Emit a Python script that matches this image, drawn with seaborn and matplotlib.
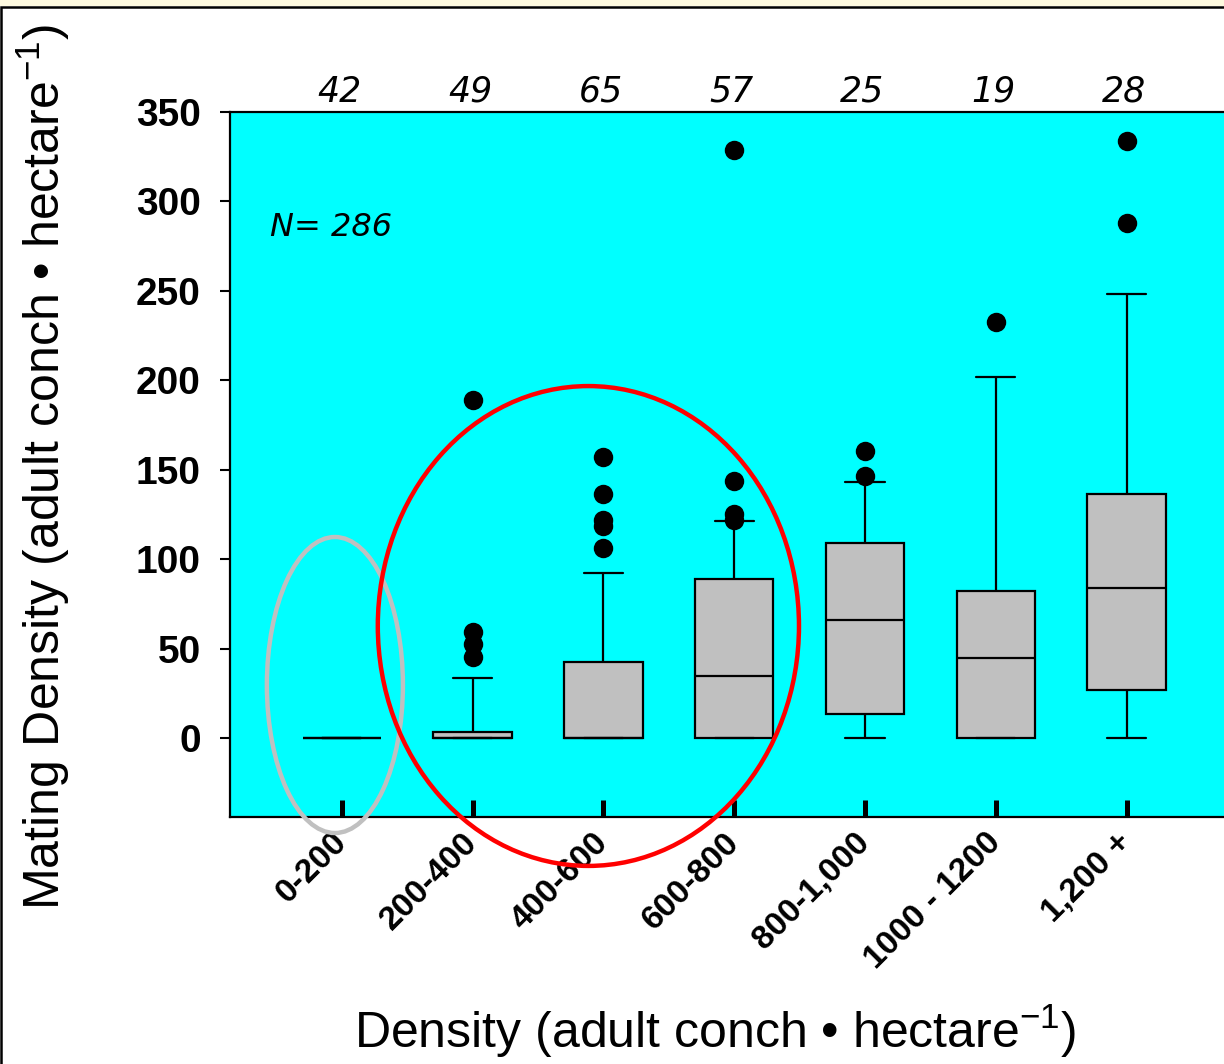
import matplotlib
matplotlib.use("Agg")
import matplotlib.pyplot as plt
from matplotlib import font_manager
from matplotlib.patches import Ellipse, Rectangle
from matplotlib.transforms import ScaledTranslation
import seaborn as sns
import pandas as pd

# ---------------- data ----------------
categories = ["0-200", "200-400", "400-600", "600-800", "800-1,000", "1000 - 1200", "1,200 +"]
n_counts = [42, 49, 65, 57, 25, 19, 28]
whisker_low = [0, 0, 0, 0, 0, 0, 0]
q1 = [0, 0, 0, 0, 13.4, 0, 26.8]
median = [0, 0, 0, 34.7, 66, 44.7, 83.8]
q3 = [0, 3.4, 42.5, 88.9, 109, 82.2, 136.4]
whisker_high = [0, 33.4, 92.2, 121.3, 143, 201.8, 248.2]
outliers = [
    [],
    [45, 52.5, 59.4, 189],
    [106.4, 118.7, 121.9, 136.4, 157],
    [122, 125, 143.6, 328.8],
    [146.5, 160.6],
    [232.5],
    [287.9, 333.7],
]
total_n = 286

# ---------------- tables built from the arrays ----------------
rows = []
for cat, a, b, c, d, e in zip(categories, whisker_low, q1, median, q3, whisker_high):
    for v in (a, b, c, d, e):
        rows.append({"density": cat, "mating": v})
df_box = pd.DataFrame(rows)
df_out = pd.DataFrame([{"density": cat, "mating": v}
                       for cat, vals in zip(categories, outliers) for v in vals])

# ---------------- style ----------------
sns.set_theme(style="ticks")
names = {f.name for f in font_manager.fontManager.ttflist}
narrow = "Liberation Sans Narrow" in names
label_family = "Liberation Sans Narrow" if narrow else "Liberation Sans"
label_size = 43 if narrow else 36
plt.rcParams["font.family"] = ["Liberation Sans", "DejaVu Sans"]
plt.rcParams["mathtext.fontset"] = "custom"
plt.rcParams["mathtext.rm"] = label_family
plt.rcParams["mathtext.it"] = label_family + ":italic"
plt.rcParams["mathtext.bf"] = label_family + ":bold"
for key in ("text.color", "axes.labelcolor", "xtick.color", "ytick.color", "axes.edgecolor"):
    plt.rcParams[key] = "black"

W, H = 1224, 1064
fig = plt.figure(figsize=(W / 100, H / 100), dpi=100)
fig.patch.set_facecolor("white")

x_left, x_right = -0.855, 6.9
ax_left_px, ax_top_px, ax_bot_px = 230, 112, 817
px_per_cat = 130.8
ax_w_px = (x_right - x_left) * px_per_cat
ax = fig.add_axes([ax_left_px / W, (H - ax_bot_px) / H, ax_w_px / W, (ax_bot_px - ax_top_px) / H])
ax.set_facecolor("#00ffff")

sns.boxplot(data=df_box, x="density", y="mating", order=categories, whis=(0, 100),
            width=0.6, color="#c0c0c0", saturation=1, linecolor="black",
            linewidth=1.6, fliersize=0, ax=ax)
sns.stripplot(data=df_out, x="density", y="mating", order=categories, jitter=False,
              color="black", size=14, linewidth=0, ax=ax, zorder=4)

ax.set_xlim(x_left, x_right)
ax.set_ylim(-44.2, 350)
ax.set_yticks(range(0, 351, 50))
ax.set_xticks(range(len(categories)))
ax.set_xticklabels(categories, rotation=45, ha="right", va="center",
                   rotation_mode="anchor", fontweight="bold", fontsize=24,
                   family=["Liberation Sans", "DejaVu Sans"])
shift = ScaledTranslation(5 / 100, 0, fig.dpi_scale_trans)
for lbl in ax.get_xticklabels():
    lbl.set_transform(lbl.get_transform() + shift)
for lbl in ax.get_yticklabels():
    lbl.set_fontweight("bold")
    lbl.set_fontsize(28)

ax.tick_params(axis="y", direction="out", length=7, width=1.5, pad=14, colors="black")
ax.tick_params(axis="x", direction="in", length=12, width=3.6, pad=15, colors="black")
for side in ("left", "bottom", "top"):
    ax.spines[side].set_visible(True)
    ax.spines[side].set_linewidth(1.6)
    ax.spines[side].set_color("black")
ax.spines["right"].set_visible(False)
ax.grid(False)

ax.set_ylabel("Mating Density (adult conch \u2022 hectare$^{-1}$)",
              family=[label_family, "DejaVu Sans"], fontsize=label_size, color="black")
ax.yaxis.set_label_coords(72 / W, (H - 467) / H, transform=fig.transFigure)
ax.set_xlabel("Density (adult conch \u2022 hectare$^{-1}$)",
              family=[label_family, "DejaVu Sans"], fontsize=label_size, color="black")
ax.xaxis.set_label_coords(715 / W, (H - 1003) / H, transform=fig.transFigure)

# sample sizes above each box
for i, n in enumerate(n_counts):
    ax.text(i - 0.02, 1.029, str(n), transform=ax.get_xaxis_transform(), ha="center",
            va="center", fontsize=25, style="italic", family="DejaVu Sans",
            color="black", clip_on=False)
ax.text(-0.55, 285.6, f"N= {total_n}", ha="left", va="center", fontsize=23,
        style="italic", family="DejaVu Sans", color="black")

# highlight ellipses
ax.add_patch(Ellipse((-0.053, 29.6), 1.04, 165.5, fill=False, edgecolor="#c0c0c0",
                     linewidth=3.2, clip_on=False, zorder=6))
ax.add_patch(Ellipse((1.885, 62.6), 3.22, 268.3, fill=False, edgecolor="red",
                     linewidth=3.2, clip_on=False, zorder=6))

# figure frame: pale strip at the top, black border left/top
fig.patches.append(Rectangle((0, 1 - 6 / H), 1, 6 / H, transform=fig.transFigure,
                             facecolor="#fdf9df", edgecolor="none", zorder=0))
fig.patches.append(Rectangle((1 / W, -0.05), 1.2, 1.05 - 6.5 / H, transform=fig.transFigure,
                             facecolor="none", edgecolor="black", linewidth=1.8, zorder=1))

fig.savefig("out.png", dpi=100)
